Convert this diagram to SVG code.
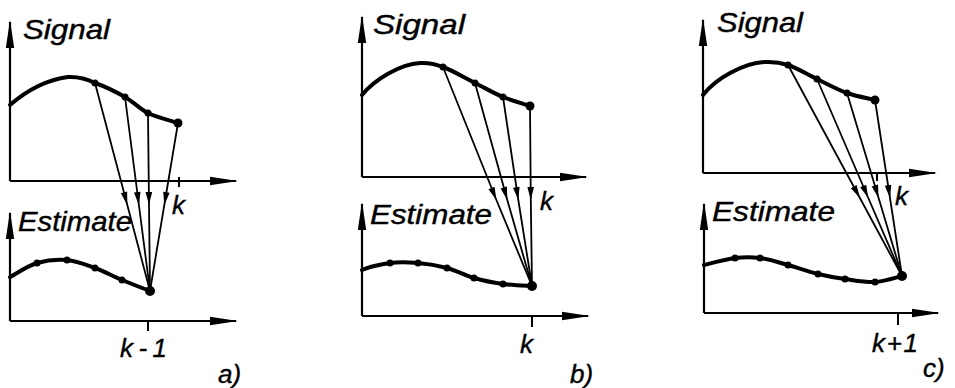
<svg xmlns="http://www.w3.org/2000/svg" width="955" height="388" viewBox="0 0 955 388">
<style>
.ax{stroke:#000;stroke-width:2.2;fill:none;marker-end:url(#axh)}
.tk{stroke:#000;stroke-width:2}
.cv{stroke:#000;stroke-width:4;fill:none;stroke-linecap:round;stroke-linejoin:round}
.cn{stroke:#000;stroke-width:1.8;fill:none;marker-mid:url(#ah)}
.dt{fill:#000}
text{font-family:"Liberation Sans",Arial,sans-serif;font-style:italic;fill:#000;stroke:#000;stroke-width:0.4}
.lb{font-size:27px}
.sm{font-size:26px}
</style>
<defs>
<marker id="axh" markerUnits="userSpaceOnUse" markerWidth="30" markerHeight="10" refX="0" refY="0" orient="auto" overflow="visible">
<path d="M2,0 L-26,-4.2 L-26,4.2 Z" fill="#000"/>
</marker>
<marker id="ah" markerUnits="userSpaceOnUse" markerWidth="14" markerHeight="8" refX="0" refY="0" orient="auto" overflow="visible">
<path d="M0,0 L-13,-3.3 L-13,3.3 Z" fill="#000"/>
</marker>
</defs>

<g id="panel-a-signal">
<line class="ax" x1="10" y1="181" x2="10" y2="22"/>
<line class="ax" x1="10" y1="181" x2="236" y2="181"/>
<line class="tk" x1="179" y1="177" x2="179" y2="187"/>
<text class="lb" x="23" y="39" textLength="87" lengthAdjust="spacingAndGlyphs">Signal</text>
<path class="cv" d="M10,105 C25,92 45,80 68,77 C78,76.5 88,79.5 95,83 C104.5,86.3 116.2,92 125,97 C133.8,102 139.2,108.7 148,113 C156.8,117.3 173,121.3 178,123"/>
<circle class="dt" cx="95" cy="83" r="3.5"/>
<circle class="dt" cx="125" cy="97" r="3.5"/>
<circle class="dt" cx="148" cy="113" r="3.5"/>
<circle class="dt" cx="178" cy="123" r="4.5"/>
</g>

<g id="panel-a-estimate">
<line class="ax" x1="10" y1="321" x2="10" y2="213"/>
<line class="ax" x1="10" y1="321" x2="236" y2="321"/>
<line class="tk" x1="148" y1="321" x2="148" y2="331"/>
<text class="lb" x="18" y="231" textLength="114" lengthAdjust="spacingAndGlyphs">Estimate</text>
<path class="cv" d="M10,277 C14.5,274.7 27.5,265.8 37,263 C46.5,260.2 57.3,259.2 67,260 C76.7,260.8 85.8,264.7 95,268 C104.2,271.3 112.8,276.2 122,280 C131.2,283.8 145.3,289.2 150,291"/>
<circle class="dt" cx="37" cy="263" r="3.5"/>
<circle class="dt" cx="67" cy="260" r="3.5"/>
<circle class="dt" cx="95" cy="268" r="3.5"/>
<circle class="dt" cx="122" cy="280" r="3.5"/>
<circle class="dt" cx="150" cy="291" r="5"/>
<text class="sm" x="172" y="214">k</text>
<text class="sm" x="120" y="357" textLength="47" lengthAdjust="spacing">k-1</text>
<text class="sm" x="218" y="383">a)</text>
</g>

<g id="panel-b-signal">
<line class="ax" x1="362" y1="177" x2="362" y2="17"/>
<line class="ax" x1="362" y1="177" x2="586" y2="177"/>
<text class="lb" x="373" y="34" textLength="92" lengthAdjust="spacingAndGlyphs">Signal</text>
<path class="cv" d="M362,95 C374,80 400,64 420,63 C430,62.5 437,64.5 443,67 C452.2,70.3 465,78 475,83 C485,88 493.8,93.2 503,97 C512.2,100.8 525.5,104.5 530,106"/>
<circle class="dt" cx="443" cy="67" r="3.5"/>
<circle class="dt" cx="475" cy="83" r="3.5"/>
<circle class="dt" cx="503" cy="97" r="3.5"/>
<circle class="dt" cx="530" cy="106" r="4.5"/>
</g>

<g id="panel-b-estimate">
<line class="ax" x1="362" y1="316" x2="362" y2="204"/>
<line class="ax" x1="362" y1="316" x2="588" y2="316"/>
<line class="tk" x1="532" y1="316" x2="532" y2="327"/>
<text class="lb" x="370" y="224" textLength="122" lengthAdjust="spacingAndGlyphs">Estimate</text>
<path class="cv" d="M362,270 C367,267.5 380.7,264.2 390,263 C399.3,261.8 408.5,262.2 418,263 C427.5,263.8 437.7,265.5 447,268 C456.3,270.5 464.7,275.3 474,278 C483.3,280.7 493.7,282.7 503,284 C512.7,285.3 527.2,285.7 532,286"/>
<circle class="dt" cx="390" cy="263" r="3.5"/>
<circle class="dt" cx="418" cy="263" r="3.5"/>
<circle class="dt" cx="447" cy="268" r="3.5"/>
<circle class="dt" cx="474" cy="278" r="3.5"/>
<circle class="dt" cx="503" cy="284" r="3.5"/>
<circle class="dt" cx="532" cy="286" r="5"/>
<text class="sm" x="540" y="210">k</text>
<text class="sm" x="520" y="353">k</text>
<text class="sm" x="570" y="383">b)</text>
</g>

<g id="panel-c-signal">
<line class="ax" x1="703" y1="173" x2="703" y2="20"/>
<line class="ax" x1="703" y1="173" x2="935" y2="173"/>
<line class="tk" x1="877" y1="173" x2="877" y2="181"/>
<text class="lb" x="717" y="32" textLength="86" lengthAdjust="spacingAndGlyphs">Signal</text>
<path class="cv" d="M703,95 C716,78 744,63 765,62 C775,61.5 782,63 788,65 C796.7,67.8 807.2,74.3 817,79 C826.8,83.7 837.3,89.5 847,93 C856.7,96.5 870.3,98.8 875,100"/>
<circle class="dt" cx="788" cy="65" r="3.5"/>
<circle class="dt" cx="817" cy="79" r="3.5"/>
<circle class="dt" cx="847" cy="93" r="3.5"/>
<circle class="dt" cx="875" cy="100" r="4.5"/>
</g>

<g id="panel-c-estimate">
<line class="ax" x1="704" y1="313" x2="704" y2="204"/>
<line class="ax" x1="704" y1="313" x2="938" y2="313"/>
<line class="tk" x1="898" y1="313" x2="898" y2="325"/>
<text class="lb" x="712" y="221" textLength="123" lengthAdjust="spacingAndGlyphs">Estimate</text>
<path class="cv" d="M704,265 C709,263.8 725.7,259.2 735,258 C744.3,256.8 751.2,256.8 760,258 C768.8,259.2 778.3,262.3 788,265 C797.7,267.7 808.5,271.7 818,274 C827.5,276.3 835.5,277.7 845,279 C854.5,280.3 865.5,282.5 875,282 C884.5,281.5 897.5,277 902,276"/>
<circle class="dt" cx="735" cy="258" r="3.5"/>
<circle class="dt" cx="760" cy="258" r="3.5"/>
<circle class="dt" cx="788" cy="265" r="3.5"/>
<circle class="dt" cx="818" cy="274" r="3.5"/>
<circle class="dt" cx="845" cy="279" r="3.5"/>
<circle class="dt" cx="875" cy="282" r="3.5"/>
<circle class="dt" cx="902" cy="276" r="5"/>
<text class="sm" x="895" y="205">k</text>
<text class="sm" x="872" y="352" textLength="46" lengthAdjust="spacing">k+1</text>
<text class="sm" x="923" y="377">c)</text>
</g>

<g id="connectors">
<path class="cn" d="M95,83 L127.3,205 L150,291"/>
<path class="cn" d="M125,97 L138.9,205 L150,291"/>
<path class="cn" d="M148,113 L149,205 L150,291"/>
<path class="cn" d="M178,123 L164.3,205 L150,291"/>
<path class="cn" d="M443,67 L496.4,200 L532,286"/>
<path class="cn" d="M475,83 L507.3,200 L532,286"/>
<path class="cn" d="M503,97 L518.3,200 L532,286"/>
<path class="cn" d="M530,106 L530.8,200 L532,286"/>
<path class="cn" d="M788,65 L859.9,198 L902,276"/>
<path class="cn" d="M817,79 L868.3,198 L902,276"/>
<path class="cn" d="M847,93 L878.6,198 L902,276"/>
<path class="cn" d="M875,100 L890,198 L902,276"/>
</g>
</svg>
